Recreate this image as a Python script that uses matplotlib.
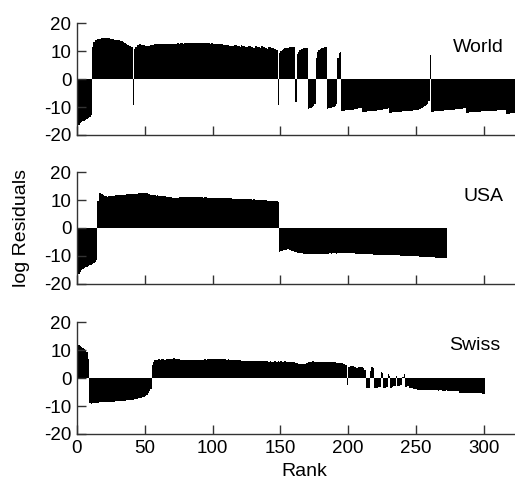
import matplotlib
matplotlib.use("Agg")
import matplotlib.pyplot as plt
import numpy as np

plt.rcParams['font.family'] = ['Liberation Sans', 'DejaVu Sans']
plt.rcParams['axes.unicode_minus'] = False

# log residuals per rank
world = [
    -17.6, -16.6, -15.9, -15.4, -15.1, -14.9, -14.7, -14.4, -14.1, -13.6, -12.8,
    11.5,
    13.2, 13.8, 14.1, 14.3, 14.4, 14.5, 14.6, 14.7, 14.8, 14.8,
    14.8, 14.7, 14.5, 14.3, 14.2, 14.1, 14.1, 14.0, 13.9, 13.8,
    13.6, 13.5, 13.2, 12.9, 12.6, 12.3, 12.0, 11.8, 11.5,
    -9.3,
    10.6, 11.6, 12.1, 12.3, 12.4, 12.3, 12.2, 12.1, 12.0, 12.0, 11.9, 12.0, 12.1, 12.2, 12.3,
    12.4, 12.5, 12.5, 12.4, 12.5, 12.6, 12.5, 12.6, 12.6, 12.5,
    12.6, 12.7, 12.6, 12.7, 12.7, 12.6, 12.7, 12.8, 12.7, 12.8,
    12.8, 12.7, 12.8, 12.8, 12.9, 12.8, 12.8, 12.9, 12.9, 12.8,
    12.9, 12.9, 12.8, 12.9, 12.9, 12.9, 12.8, 12.9, 12.8, 12.8,
    12.8, 12.7, 12.8, 12.7, 12.7, 12.6, 12.6, 12.5, 12.5, 12.4,
    12.4, 12.3, 12.3, 12.2, 12.1, 12.0, 11.9, 11.8, 11.7,
    12.3, 12.1, 11.9, 11.7, 11.5,
    12.2, 12.0, 11.8, 11.6, 11.4,
    12.0, 11.8, 11.6, 11.4, 11.2,
    11.9, 11.7, 11.5, 11.3, 11.1,
    11.7, 11.5, 11.3, 11.1, 10.9,
    11.6, 11.4, 11.2, 11.0, 10.8, 10.6, 10.4,
    -9.3,
    9.2, 10.0, 10.5, 10.8, 11.0, 11.1, 11.2, 11.3, 11.3, 11.4, 11.4, 11.4,
    -8.1,
    8.8, 9.8, 10.3, 10.6, 10.8, 11.0, 11.1, 11.2,
    -10.6, -10.4, -10.2, -10.0, -9.6, -8.8,
    7.5, 9.8, 10.5, 10.9, 11.1, 11.2, 11.3, 11.3,
    -10.6, -10.5, -10.4, -10.3, -10.1, -9.9, -9.6, -9.0,
    7.5, 9.2, 9.7,
    -11.4, -11.3, -11.3, -11.2, -11.1, -11.1, -11.0, -10.9, -10.9, -10.8,
    -10.7, -10.6, -10.5, -10.4, -10.3,
    -11.8, -11.8, -11.7, -11.7, -11.6, -11.6, -11.5, -11.5, -11.4, -11.4,
    -11.3, -11.2, -11.2, -11.1, -11.0, -10.9, -10.8, -10.7, -10.6, -10.5,
    -12.0, -12.0, -11.9, -11.9, -11.9, -11.8, -11.8, -11.7, -11.7, -11.7,
    -11.6, -11.6, -11.5, -11.5, -11.4, -11.4, -11.3, -11.3, -11.2, -11.1,
    -11.0, -10.9, -10.8, -10.6, -10.4, -10.1, -9.8, -9.4, -8.8, -7.9,
    8.6,
    -11.7, -11.7, -11.6, -11.6, -11.5, -11.5, -11.4, -11.4, -11.3, -11.3,
    -11.2, -11.2, -11.1, -11.1, -11.0, -11.0, -10.9, -10.9, -10.8, -10.8,
    -10.7, -10.7, -10.6, -10.6, -10.5, -10.4,
    -12.0, -12.0, -11.9, -11.9, -11.9, -11.8, -11.8, -11.8, -11.7, -11.7,
    -11.7, -11.6, -11.6, -11.6, -11.5, -11.5, -11.5, -11.4, -11.4, -11.4,
    -11.3, -11.3, -11.3, -11.2, -11.2, -11.2, -11.1, -11.1, -11.0,
    -12.4, -12.4, -12.4, -12.3, -12.3, -12.3, -12.3, -12.2,
]

usa = [
    -17.8, -16.5, -15.6, -15.0, -14.6, -14.3, -14.0, -13.8, -13.6, -13.4,
    -13.2, -12.9, -12.6, -12.2, -11.6,
    9.5, 12.6, 12.5, 12.2, 11.9, 11.5, 11.3, 11.2, 11.3, 11.4,
    11.5, 11.6, 11.6, 11.7, 11.7, 11.8, 11.7, 11.8, 11.9, 11.9,
    11.9, 12.0, 12.0, 12.1, 12.0, 12.1, 12.2, 12.2, 12.3, 12.3,
    12.4, 12.4, 12.5, 12.5, 12.6, 12.5, 12.4, 12.2, 12.0, 11.9,
    11.8, 11.8, 11.7, 11.6, 11.7, 11.6, 11.5, 11.5, 11.4, 11.3,
    11.3, 11.2, 11.1, 11.0, 11.0, 10.9, 10.9, 10.8, 10.8, 10.8,
    11.0, 11.1, 11.1, 11.0, 11.1, 11.1, 11.1, 11.0, 11.1, 11.1,
    11.1, 11.1, 11.0, 11.0, 11.1, 11.0, 11.0, 11.0, 10.9, 11.0,
    11.0, 10.9, 10.9, 10.9, 10.8, 10.9, 10.8, 10.8, 10.8, 10.8,
    10.8, 10.7, 10.7, 10.7, 10.6, 10.7, 10.6, 10.6, 10.6, 10.5,
    10.5, 10.5, 10.4, 10.4, 10.5, 10.4, 10.4, 10.3, 10.3, 10.3,
    10.2, 10.3, 10.2, 10.2, 10.1, 10.2, 10.1, 10.1, 10.1, 10.0,
    10.0, 10.0, 9.9, 9.9, 9.9, 9.8, 9.8, 9.8, 9.7, 9.7,
    9.6, 9.6, 9.5, 9.4,
    -8.6, -8.4, -8.2, -8.0, -7.8, -7.7, -7.5, -7.7, -7.9, -8.2,
    -8.4, -8.6, -8.7, -8.8, -8.9, -9.0, -9.1, -9.1, -9.2, -9.2,
    -9.3, -9.3, -9.3, -9.3, -9.4, -9.3, -9.3, -9.3, -9.3, -9.2,
    -9.3, -9.2, -9.2, -9.3, -9.2, -9.2, -9.2, -9.1, -9.2, -9.1,
    -9.1, -9.1, -9.2, -9.1, -9.0, -9.1, -9.0, -9.0, -9.1, -9.0,
    -9.0, -9.0, -9.1, -9.1, -9.1, -9.1, -9.2, -9.2, -9.2, -9.2,
    -9.3, -9.3, -9.3, -9.3, -9.3, -9.4, -9.4, -9.4, -9.4, -9.5,
    -9.5, -9.5, -9.5, -9.5, -9.6, -9.6, -9.6, -9.6, -9.6, -9.7,
    -9.7, -9.7, -9.7, -9.7, -9.8, -9.8, -9.8, -9.8, -9.8, -9.9,
    -9.9, -9.9, -9.9, -9.9, -10.0, -10.0, -10.0, -10.0, -10.0, -10.1,
    -10.1, -10.1, -10.1, -10.2, -10.2, -10.2, -10.3, -10.3, -10.3, -10.4,
    -10.4, -10.4, -10.5, -10.5, -10.5, -10.6, -10.6, -10.6, -10.7, -10.7,
    -10.8, -10.8, -10.9, -10.9,
]

swiss = [
    12.2, 11.8, 11.3, 11.0, 10.8, 10.5, 10.1, 9.3, 7.0,
    -9.0, -9.1, -9.0, -8.9, -8.9, -8.8, -8.8, -8.7, -8.7, -8.7,
    -8.6, -8.6, -8.6, -8.5, -8.5, -8.5, -8.4, -8.4, -8.4, -8.3,
    -8.3, -8.3, -8.2, -8.2, -8.2, -8.1, -8.1, -8.0, -8.0, -7.9,
    -7.8, -7.8, -7.7, -7.6, -7.5, -7.4, -7.3, -7.1, -7.0, -6.8,
    -6.6, -6.3, -6.0, -5.5, -4.8, -3.8,
    4.8, 5.8, 6.3, 6.5, 6.6, 6.7, 6.6, 6.7, 6.8, 6.6,
    6.6, 6.7, 6.8, 6.9, 7.0, 7.0, 7.1, 7.0, 6.9, 6.8,
    6.7, 6.6, 6.5, 6.4, 6.3, 6.3, 6.3, 6.4, 6.3, 6.4,
    6.4, 6.5, 6.4, 6.5, 6.5, 6.6, 6.5, 6.6, 6.6, 6.7,
    6.6, 6.7, 6.7, 6.7, 6.8, 6.7, 6.8, 6.8, 6.8, 6.7,
    6.8, 6.7, 6.8, 6.7, 6.7, 6.6, 6.7, 6.6, 6.6, 6.5,
    6.5, 6.5, 6.4, 6.4, 6.3, 6.3, 6.2, 6.2, 6.1, 6.1,
    6.0, 6.0, 6.0, 6.1, 6.0, 6.0, 6.1, 6.0, 6.0, 6.1,
    6.0, 6.0, 6.0, 6.1, 6.0, 6.0, 5.9, 6.0, 5.9, 5.9,
    6.0, 6.0, 5.9, 6.0, 5.9, 6.0, 5.9, 5.9, 6.0, 5.9,
    5.9, 5.9, 5.8, 5.8, 5.7, 5.6, 5.5, 5.3, 5.1, 5.0,
    4.9, 4.9, 5.0, 5.2, 5.4, 5.6, 5.8, 5.9, 6.0, 6.0,
    5.9, 5.9, 5.8, 5.9, 5.8, 5.8, 5.8, 5.7, 5.8, 5.7,
    5.7, 5.7, 5.7, 5.6, 5.6, 5.6, 5.5, 5.5, 5.5, 5.4,
    5.3, 5.2, 5.0, 4.6,
    -2.4,
    3.8, 4.2, 4.3, 4.2, 4.1, 3.8, 3.5, 3.9, 4.1, 4.0, 3.8, 3.5,
    3.0, -3.6, -3.5, -3.4, 2.5, 4.0, 3.5, -3.6, -3.5, -3.4,
    -3.3, -3.2, 2.3, 1.8, -3.6, -3.4, -3.2, 1.4, 0.8, -3.4,
    -3.2, -3.0, -2.8, 0.6, -3.0, -2.8, -2.6, -2.5, 0.4, 1.5,
    -3.2, -3.0, -2.8, -3.5, -3.6, -3.7,
    -3.8, -3.9, -4.0, -4.1, -4.2, -4.2,
    -4.3, -4.3, -4.3, -4.4, -4.3, -4.4, -4.4, -4.4, -4.3, -4.4,
    -4.4, -4.4, -4.5, -4.4, -4.4, -4.5, -4.5, -4.5, -4.4, -4.5,
    -4.5, -4.5, -4.5, -4.6, -4.5, -4.6, -4.6, -4.6,
    -5.3, -5.3, -5.3, -5.4, -5.3, -5.4, -5.4, -5.4, -5.4, -5.4,
    -5.5, -5.4, -5.5, -5.5, -5.5, -5.5, -5.5, -5.6, -5.6,
]

names = ['World', 'USA', 'Swiss']
series = [world, usa, swiss]
# where each panel's name sits (data coords)
name_pos = [(296, 11.4), (300, 11.1), (293, 11.8)]
yticks = [-20, -10, 0, 10, 20]
xticks = [0, 50, 100, 150, 200, 250, 300]

fig = plt.figure(figsize=(5.15, 4.82), dpi=100)
bottoms = [0.720, 0.411, 0.0996]
axes = []
for i, (name, vals) in enumerate(zip(names, series)):
    ax = fig.add_axes([0.1495, bottoms[i], 0.8505, 0.232])
    edges = np.arange(len(vals) + 1)
    ax.stairs(vals, edges, baseline=0, fill=True, color='black')
    ax.set_xlim(0, 323)
    ax.set_ylim(-20, 20)
    ax.set_yticks(yticks)
    ax.set_xticks(xticks)
    for s in ['top', 'right']:
        ax.spines[s].set_visible(False)
    for s in ['left', 'bottom']:
        ax.spines[s].set_linewidth(1.0)
        ax.spines[s].set_color('#333333')
    ax.tick_params(direction='in', length=6.5, width=1.0, color='#333333',
                   labelsize=13.5, pad=4)
    if i < 2:
        ax.tick_params(axis='x', labelbottom=False)
    ax.text(name_pos[i][0], name_pos[i][1], name, fontsize=14,
            ha='center', va='center')
    axes.append(ax)

fig.text(22 / 515, 1 - 228 / 482, 'log Residuals', fontsize=14,
         rotation=90, ha='center', va='center')
fig.text(304 / 515, 1 - 471 / 482, 'Rank', fontsize=14,
         ha='center', va='center')

fig.savefig('out.png', dpi=100)
